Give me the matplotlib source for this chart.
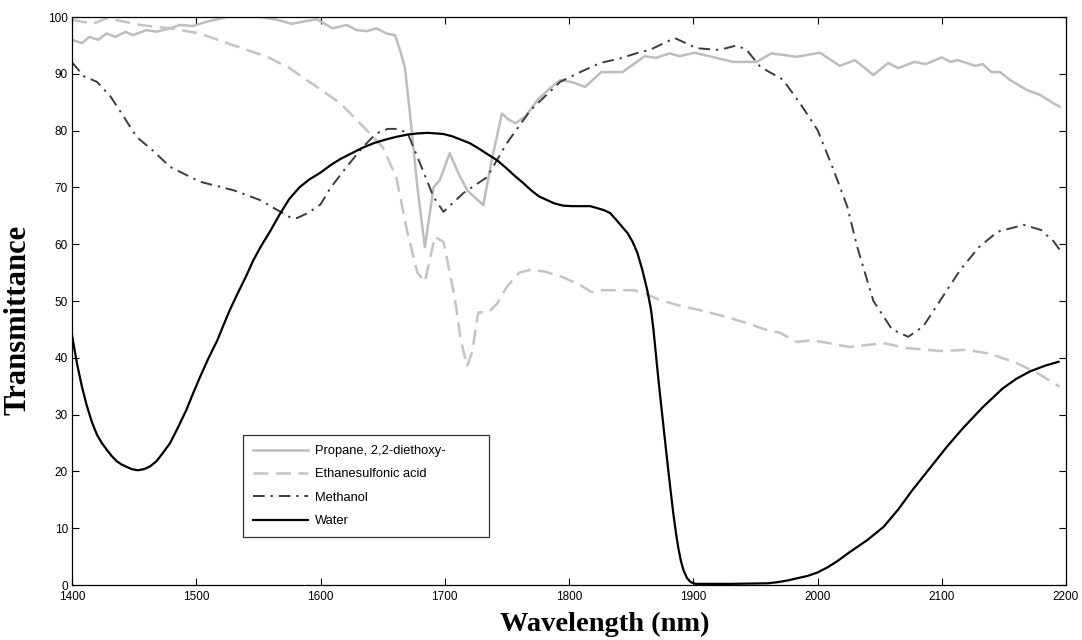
import matplotlib
matplotlib.use("Agg")
import matplotlib.pyplot as plt

# Propane, 2,2-diethoxy-
prop_x = [1400, 1408, 1414, 1421, 1428, 1435, 1443, 1449, 1460, 1468, 1479, 1487, 1497, 1509, 1525,
          1551, 1565, 1577, 1589, 1597, 1610, 1621, 1629, 1637, 1645, 1653, 1660, 1664, 1668, 1672,
          1678, 1684, 1691, 1696, 1704, 1711, 1718, 1724, 1731, 1738, 1746, 1751, 1757, 1765, 1775,
          1785, 1793, 1803, 1813, 1826, 1843, 1861, 1870, 1881, 1889, 1901, 1915, 1932, 1951, 1963,
          1983, 2002, 2018, 2030, 2045, 2057, 2065, 2078, 2087, 2100, 2107, 2113, 2127, 2133, 2140,
          2147, 2155, 2169, 2179, 2190, 2195]
prop_y = [96.0, 95.4, 96.5, 96.0, 97.1, 96.5, 97.4, 96.8, 97.7, 97.4, 98.0, 98.6, 98.4, 99.2, 100.0,
          100.0, 99.5, 98.8, 99.3, 99.6, 98.0, 98.6, 97.7, 97.5, 98.0, 97.1, 96.8, 94.2, 91.0, 83.0,
          70.0, 59.5, 70.0, 71.3, 76.0, 72.5, 69.5, 68.3, 66.9, 75.0, 83.0, 82.0, 81.3, 82.5, 85.5,
          87.5, 88.9, 88.5, 87.7, 90.3, 90.3, 93.1, 92.8, 93.6, 93.1, 93.7, 93.0, 92.1, 92.1, 93.6,
          93.0, 93.7, 91.4, 92.4, 89.8, 91.9, 91.0, 92.1, 91.7, 92.9, 92.1, 92.4, 91.4, 91.7, 90.3,
          90.3, 88.9, 87.1, 86.3, 84.8, 84.2]

# Ethanesulfonic acid
eth_x = [1400, 1417, 1428, 1455, 1479, 1503, 1530, 1557, 1575, 1597, 1616, 1637, 1650, 1661, 1670,
         1678, 1684, 1692, 1699, 1708, 1713, 1718, 1722, 1727, 1735, 1742, 1750, 1760, 1769, 1780,
         1795, 1809, 1818, 1827, 1852, 1860, 1873, 1887, 1905, 1927, 1943, 1959, 1970, 1983, 1996,
         2026, 2053, 2072, 2099, 2120, 2139, 2160, 2177, 2195]
eth_y = [99.5, 98.8, 99.8, 98.6, 98.0, 97.1, 95.0, 93.0, 91.0, 87.7, 84.8, 80.1, 77.1, 71.8, 62.0,
         55.0, 53.4, 61.3, 60.4, 50.7, 43.0, 38.5, 41.0, 48.0, 48.0, 49.5, 52.5, 55.0, 55.5, 55.2,
         54.2, 52.8, 51.6, 51.9, 51.9, 51.4, 50.2, 49.3, 48.4, 47.2, 46.1, 44.9, 44.4, 42.8, 43.1,
         41.9, 42.6, 41.7, 41.2, 41.4, 40.7, 39.1, 37.3, 34.9]

# Methanol
meth_x = [1400, 1410, 1420, 1431, 1440, 1452, 1465, 1479, 1503, 1530, 1551, 1575, 1581, 1590, 1600,
          1608, 1621, 1634, 1645, 1654, 1662, 1670, 1680, 1691, 1699, 1715, 1734, 1750, 1769, 1793,
          1809, 1825, 1841, 1857, 1865, 1885, 1903, 1921, 1935, 1943, 1954, 1972, 1986, 2000, 2012,
          2024, 2032, 2045, 2060, 2073, 2085, 2100, 2115, 2130, 2145, 2166, 2180, 2190, 2195]
meth_y = [92.0, 89.5, 88.6, 86.0, 83.0, 78.9, 76.5, 73.6, 71.0, 69.5, 67.8, 64.8, 64.6, 65.5, 67.0,
          69.9, 73.6, 77.1, 79.5, 80.3, 80.3, 79.6, 74.3, 68.3, 65.7, 69.0, 71.8, 77.8, 83.6, 88.6,
          90.3, 91.9, 92.7, 93.8, 94.2, 96.3, 94.5, 94.2, 95.0, 94.2, 91.2, 89.0, 84.8, 80.1, 73.6,
          66.6, 59.5, 50.0, 45.0, 43.7, 45.5, 50.5, 55.5, 59.5, 62.2, 63.4, 62.5, 60.5, 59.0]

# Water
water_x = [1400, 1404, 1408, 1412, 1416, 1420, 1424, 1428, 1432, 1436, 1440, 1444, 1448, 1453, 1458,
           1463, 1468, 1473, 1479, 1485, 1492, 1497, 1503, 1510, 1517, 1522, 1527, 1533, 1540, 1546,
           1552, 1559, 1567, 1575, 1583, 1591, 1600, 1608, 1616, 1625, 1634, 1643, 1652, 1661, 1670,
           1678, 1686, 1693, 1699, 1706, 1713, 1720, 1727, 1734, 1742, 1749, 1756, 1763, 1770, 1776,
           1782, 1788, 1795, 1802, 1809, 1817, 1822, 1828, 1833, 1838, 1843, 1847, 1851, 1855, 1859,
           1863, 1866, 1868, 1870, 1872, 1874, 1876, 1878, 1880, 1882, 1884, 1886, 1888, 1890, 1892,
           1895, 1898, 1902, 1930, 1960, 1968, 1976, 1984, 1992, 2000, 2008, 2016, 2026, 2040, 2053,
           2065, 2076, 2088, 2104, 2117, 2133, 2149, 2160, 2171, 2183, 2194]
water_y = [44.0, 39.0, 34.9, 31.5, 28.7, 26.5, 25.0, 23.8, 22.7, 21.8, 21.2, 20.8, 20.4, 20.2, 20.4,
           20.9, 21.8, 23.2, 25.0, 27.6, 30.8, 33.5, 36.6, 40.0, 43.1, 45.8, 48.4, 51.2, 54.3, 57.2,
           59.6, 62.1, 65.2, 68.0, 70.0, 71.4, 72.6, 73.9, 75.0, 76.0, 77.0, 77.8, 78.4, 78.9, 79.3,
           79.5, 79.6, 79.5, 79.4, 79.0, 78.4, 77.8, 76.9, 75.9, 74.8, 73.5, 72.1, 70.8, 69.4, 68.4,
           67.8, 67.2, 66.8, 66.7, 66.7, 66.7, 66.4, 66.0, 65.5, 64.3, 63.0, 62.0, 60.5, 58.5, 55.5,
           51.9, 48.5, 44.9, 40.5, 36.1, 32.0, 28.0, 24.0, 20.0, 16.2, 12.5, 9.3, 6.5, 4.3, 2.7,
           1.2, 0.5, 0.2, 0.2, 0.3, 0.5, 0.8, 1.2, 1.6, 2.2, 3.1, 4.2, 5.8, 7.9, 10.2,
           13.3, 16.6, 19.9, 24.3, 27.6, 31.3, 34.6, 36.3, 37.6, 38.6, 39.3]

series_names = ["Propane, 2,2-diethoxy-", "Ethanesulfonic acid", "Methanol", "Water"]
x_ticks = [1400, 1500, 1600, 1700, 1800, 1900, 2000, 2100, 2200]
y_ticks = [0, 10, 20, 30, 40, 50, 60, 70, 80, 90, 100]

plt.rcParams['font.family'] = ['Liberation Sans Narrow', 'Liberation Sans', 'DejaVu Sans']

fig = plt.figure(figsize=(10.82, 6.40), dpi=100)
ax = fig.add_axes([72/1082, 55/640, 994/1082, 568/640])

ax.plot(prop_x, prop_y, color='#bdbdbd', lw=1.8, label=series_names[0])
ax.plot(eth_x, eth_y, color='#c4c4c4', lw=1.8, dashes=(6, 3), label=series_names[1])
ax.plot(meth_x, meth_y, color='#3c3c3c', lw=1.4, dashes=(6, 3, 1.2, 3), label=series_names[2])
ax.plot(water_x, water_y, color='black', lw=1.6, label=series_names[3])

ax.set_xlim(1400, 2200)
ax.set_ylim(0, 100)
ax.set_xticks(x_ticks)
ax.set_yticks(y_ticks)
ax.tick_params(direction='in', length=5, width=0.8, top=True, right=True,
               labelsize=8.5)
ax.tick_params(axis='x', pad=4.5)
ax.tick_params(axis='y', pad=3)
for s in ax.spines.values():
    s.set_linewidth(0.9)

ax.set_xlabel("Wavelength (nm)", fontfamily='Liberation Serif', fontweight='bold',
              fontsize=20.5)
ax.set_ylabel("Transmittance", fontfamily='Liberation Serif', fontweight='bold',
              fontsize=22)
ax.xaxis.set_label_coords(0.536, -0.047)
ax.yaxis.set_label_coords(-0.040, 0.467)

leg = ax.legend(loc='lower left', bbox_to_anchor=(0.172, 0.0845, 0.248, 0.18), mode='expand',
                fontsize=9.3, handlelength=4.3, handletextpad=0.5, borderpad=0.75,
                labelspacing=0.88, borderaxespad=0,
                fancybox=False, framealpha=1, edgecolor='#333333')
leg.get_frame().set_linewidth(0.9)
for t in leg.get_texts():
    t.set_fontfamily(['Liberation Sans', 'DejaVu Sans'])

fig.savefig("out.png", dpi=100)
